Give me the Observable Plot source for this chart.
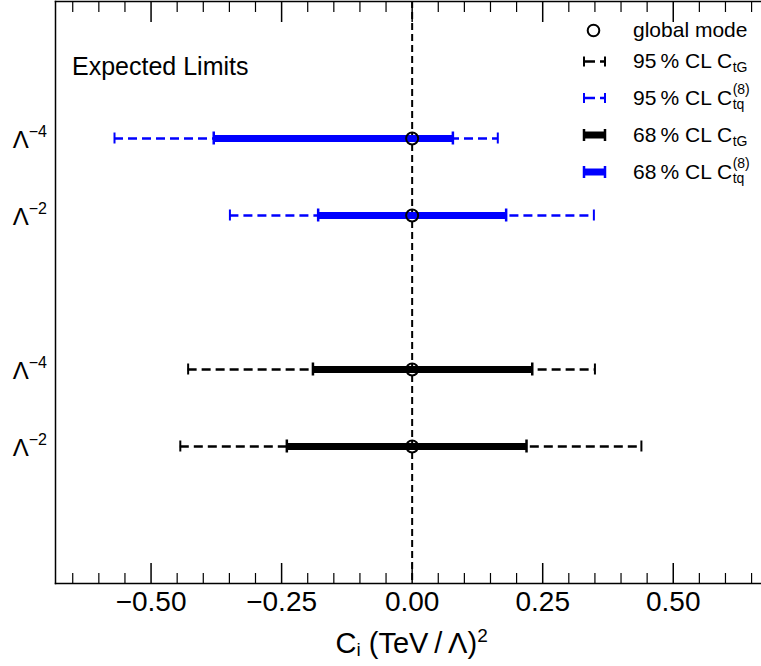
<!DOCTYPE html>
<html><head><meta charset="utf-8">
<script src="https://cdn.jsdelivr.net/npm/d3@7"></script>
<script src="https://cdn.jsdelivr.net/npm/@observablehq/plot@0.6"></script>
<style>
html,body{margin:0;padding:0;background:#fff;overflow:hidden}
svg{display:block}
</style></head><body><div id="chart"></div>
<script>
// ---------- data ----------
const rowCoefficient = ["Ctq8", "Ctq8", "CtG", "CtG"];
const rowOrder = ["−4", "−2", "−4", "−2"];
const globalMode = [0, 0, 0, 0];
const low95 = [-0.570, -0.349, -0.429, -0.444];
const high95 = [0.164, 0.348, 0.350, 0.439];
const low68 = [-0.380, -0.180, -0.190, -0.240];
const high68 = [0.078, 0.180, 0.230, 0.219];
const coefficientColor = {Ctq8: "#0000ff", CtG: "#000000"};
const rowKeysTopToBottom = ["Ctq8|−4", "Ctq8|−2", "spacer", "CtG|−4", "CtG|−2"];
const xDomain = [-0.683, 0.669];
const xMajorTicks = [-0.5, -0.25, 0, 0.25, 0.5];
const xMajorLabels = ["−0.50", "−0.25", "0.00", "0.25", "0.50"];
const xMinorTicks = [-0.65, -0.60, -0.55, -0.45, -0.40, -0.35, -0.30, -0.20, -0.15, -0.10, -0.05,
                     0.05, 0.10, 0.15, 0.20, 0.30, 0.35, 0.40, 0.45, 0.55, 0.60, 0.65];
const annotation = "Expected Limits";
const legendItems = [
  {kind: "mode", color: "#000000", text: "global mode"},
  {kind: "cl95", color: "#000000", text: "95\u2009% CL C", sub: "tG"},
  {kind: "cl95", color: "#0000ff", text: "95\u2009% CL C", sub: "tq", sup: "(8)"},
  {kind: "cl68", color: "#000000", text: "68\u2009% CL C", sub: "tG"},
  {kind: "cl68", color: "#0000ff", text: "68\u2009% CL C", sub: "tq", sup: "(8)"}
];

// ---------- table ----------
const rows = rowCoefficient.map((c, i) => ({
  key: c + "|" + rowOrder[i], coef: c, order: rowOrder[i], color: coefficientColor[c],
  mode: globalMode[i], lo95: low95[i], hi95: high95[i], lo68: low68[i], hi68: high68[i]
}));
const caps95 = rows.flatMap(r => [{key: r.key, x: r.lo95, color: r.color}, {key: r.key, x: r.hi95, color: r.color}]);
const caps68 = rows.flatMap(r => [{key: r.key, x: r.lo68, color: r.color}, {key: r.key, x: r.hi68, color: r.color}]);

const FONT = "'Liberation Sans', Arial, Helvetica, sans-serif";
const W = 761, H = 666;

const plot = Plot.plot({
  width: W, height: H,
  marginLeft: 55, marginRight: 0, marginTop: 1, marginBottom: 83,
  style: {fontFamily: FONT, color: "black", background: "white"},
  x: {domain: xDomain},
  y: {type: "point", domain: rowKeysTopToBottom, padding: 1.76, axis: null},
  color: {type: "identity"},
  marks: [
    Plot.ruleX([0], {stroke: "black", strokeWidth: 2, strokeDasharray: "7,4"}),
    Plot.ruleY(rows, {y: "key", x1: "lo95", x2: "hi95", stroke: "color", strokeWidth: 2.5, strokeDasharray: "9,5"}),
    Plot.ruleY(rows, {y: "key", x1: "lo68", x2: "hi68", stroke: "color", strokeWidth: 7}),
    Plot.ruleX(caps95, {x: "x", y1: "key", y2: "key", stroke: "color", strokeWidth: 2, insetTop: -5.5, insetBottom: -5.5}),
    Plot.ruleX(caps68, {x: "x", y1: "key", y2: "key", stroke: "color", strokeWidth: 2.5, insetTop: -6.5, insetBottom: -6.5}),
    Plot.dot(rows, {x: "mode", y: "key", r: 6, stroke: "black", strokeWidth: 2, fill: "none"}),
    Plot.frame({anchor: "left", strokeWidth: 1.5}),
    Plot.frame({anchor: "top", strokeWidth: 1.5}),
    Plot.frame({anchor: "bottom", strokeWidth: 1.5}),
    Plot.axisX({anchor: "bottom", ticks: xMajorTicks, tickSize: 20, dy: -20, tickFormat: () => "", label: null, strokeWidth: 1.5}),
    Plot.axisX({anchor: "bottom", ticks: xMinorTicks, tickSize: 10, dy: -10, tickFormat: () => "", label: null, strokeWidth: 1.2}),
    Plot.axisX({anchor: "top", ticks: xMajorTicks, tickSize: 20, dy: 20, tickFormat: () => "", label: null, strokeWidth: 1.5}),
    Plot.axisX({anchor: "top", ticks: xMinorTicks, tickSize: 10, dy: 10, tickFormat: () => "", label: null, strokeWidth: 1.2}),
    Plot.axisX({anchor: "bottom", ticks: xMajorTicks, tickSize: 0, tickPadding: 8, fontSize: 28,
      tickFormat: d => xMajorLabels[xMajorTicks.indexOf(d)], label: null})
  ]
});
document.getElementById("chart").appendChild(plot);

const svg = d3.select(plot);
const yScale = plot.scale("y");
const xScale = plot.scale("x");
const overlay = svg.append("g").attr("font-family", FONT).attr("fill", "black").attr("text-anchor", "start");

// y tick labels  Λ^{-n}
rows.forEach(r => {
  const yy = yScale.apply(r.key);
  const t = overlay.append("text").attr("x", 47).attr("y", yy + 9.5).attr("text-anchor", "end").attr("font-size", 24);
  t.append("tspan").text("Λ");
  t.append("tspan").attr("dy", -10.5).attr("font-size", 16).text(r.order);
});

// x axis label  C_i (TeV / Λ)^2
{
  const midX = xScale.apply(0);
  const t = overlay.append("text").attr("x", midX).attr("y", 653).attr("text-anchor", "middle").attr("font-size", 29);
  t.append("tspan").text("C");
  t.append("tspan").attr("dy", 3).attr("font-size", 19).text("i");
  t.append("tspan").attr("dy", -3).text(" (TeV\u2009/\u2009Λ)");
  t.append("tspan").attr("dy", -11).attr("font-size", 19).text("2");
}

// annotation
overlay.append("text").attr("x", 72).attr("y", 75).attr("font-size", 25).text(annotation);

// legend
const legendRowY = [30.5, 61.5, 98, 135, 172];
const lg = overlay.append("g");
legendItems.forEach((it, i) => {
  const y = legendRowY[i];
  const x0 = 584, x1 = 605;
  if (it.kind === "mode") {
    lg.append("circle").attr("cx", 593.5).attr("cy", y).attr("r", 5.8).attr("fill", "none").attr("stroke", "black").attr("stroke-width", 2);
  } else if (it.kind === "cl95") {
    lg.append("line").attr("x1", x0).attr("x2", x1).attr("y1", y).attr("y2", y).attr("stroke", it.color).attr("stroke-width", 2.5).attr("stroke-dasharray", "11,5");
    [x0, x1].forEach(xx => lg.append("line").attr("x1", xx).attr("x2", xx).attr("y1", y - 5).attr("y2", y + 5).attr("stroke", it.color).attr("stroke-width", 2));
  } else {
    lg.append("line").attr("x1", x0).attr("x2", x1).attr("y1", y).attr("y2", y).attr("stroke", it.color).attr("stroke-width", 7);
    [x0, x1].forEach(xx => lg.append("line").attr("x1", xx).attr("x2", xx).attr("y1", y - 6).attr("y2", y + 6).attr("stroke", it.color).attr("stroke-width", 2.5));
  }
  const tx = 633, base = y + 6.5;
  const main = lg.append("text").attr("x", tx).attr("y", base).attr("font-size", 21).text(it.text);
  const w = main.node().getComputedTextLength();
  if (it.sub) lg.append("text").attr("x", tx + w + 0.5).attr("y", base + 4).attr("font-size", 14).text(it.sub);
  if (it.sup) lg.append("text").attr("x", tx + w + 0.5).attr("y", base - 10.5).attr("font-size", 14).text(it.sup);
});
</script></body></html>
